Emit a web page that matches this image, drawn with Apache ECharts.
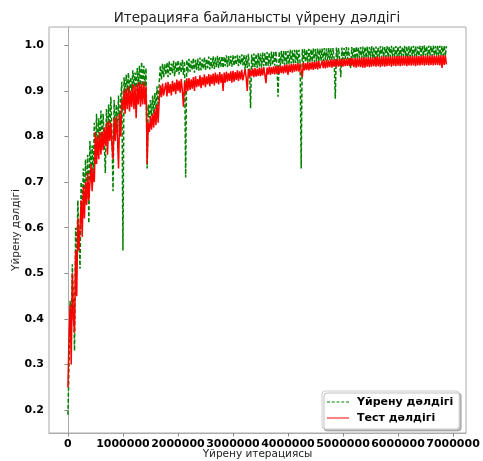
<!DOCTYPE html>
<html>
<head>
<meta charset="utf-8">
<script src="https://cdn.jsdelivr.net/npm/echarts@6/dist/echarts.min.js"></script>
<style>
html,body{margin:0;padding:0;background:#fff;}
#chart{width:483px;height:461px;}
</style>
</head>
<body>
<div id="chart"></div>
<script>
const titleText = 'Итерацияға байланысты үйрену дәлдігі';
const xName = 'Үйрену итерациясы';
const yName = 'Үйрену дәлдігі';
const seriesNames = ['Үйрену дәлдігі', 'Тест дәлдігі'];
const xTicks = [0, 1000000, 2000000, 3000000, 4000000, 5000000, 6000000, 7000000];
const yTicks = [0.2, 0.3, 0.4, 0.5, 0.6, 0.7, 0.8, 0.9, 1.0];
const step = 20000;

const trainAcc = [
0.19,0.30,0.44,0.36,0.52,0.45,0.33,0.60,0.52,0.66,
0.58,0.51,0.70,0.62,0.73,0.65,0.75,0.66,0.76,0.61,
0.79,0.70,0.78,0.72,0.83,0.74,0.85,0.76,0.84,0.77,
0.857,0.78,0.85,0.79,0.72,0.86,0.79,0.87,0.80,0.887,
0.81,0.68,0.88,0.80,0.87,0.81,0.89,0.80,0.885,0.92,
0.55,0.93,0.89,0.935,0.90,0.94,0.895,0.93,0.90,0.945,
0.905,0.94,0.90,0.95,0.91,0.955,0.905,0.963,0.91,0.955,
0.91,0.95,0.73,0.87,0.84,0.88,0.845,0.89,0.85,0.895,
0.86,0.91,0.865,0.92,0.955,0.925,0.96,0.93,0.958,0.935,
0.962,0.93,0.965,0.935,0.96,0.938,0.966,0.932,0.963,0.94,
0.967,0.936,0.962,0.94,0.968,0.935,0.965,0.71,0.968,0.94,
0.97,0.942,0.966,0.945,0.972,0.94,0.968,0.946,0.971,0.944,
0.973,0.945,0.969,0.948,0.974,0.946,0.97,0.95,0.975,0.947,
0.972,0.95,0.976,0.948,0.973,0.952,0.977,0.95,0.974,0.953,
0.976,0.95,0.975,0.954,0.978,0.952,0.976,0.955,0.977,0.953,
0.978,0.955,0.976,0.957,0.979,0.954,0.977,0.958,0.98,0.956,
0.979,0.945,0.978,0.95,0.981,0.948,0.862,0.98,0.95,0.982,
0.952,0.981,0.95,0.983,0.953,0.982,0.951,0.984,0.954,0.983,
0.953,0.985,0.955,0.984,0.954,0.986,0.956,0.985,0.955,0.987,
0.957,0.887,0.986,0.956,0.988,0.958,0.987,0.957,0.989,0.959,
0.988,0.958,0.99,0.96,0.989,0.959,0.99,0.961,0.991,0.96,
0.99,0.962,0.73,0.991,0.961,0.992,0.963,0.99,0.962,0.992,
0.963,0.991,0.964,0.993,0.963,0.992,0.965,0.993,0.964,0.992,
0.966,0.993,0.965,0.994,0.967,0.993,0.966,0.994,0.968,0.993,
0.967,0.994,0.968,0.883,0.995,0.968,0.994,0.969,0.93,0.995,
0.969,0.994,0.97,0.996,0.969,0.995,0.97,0.95,0.996,0.971,
0.995,0.97,0.997,0.971,0.995,0.972,0.996,0.971,0.997,0.972,
0.996,0.972,0.997,0.973,0.996,0.972,0.998,0.973,0.996,0.96,
0.997,0.973,0.996,0.974,0.998,0.973,0.997,0.974,0.996,0.974,
0.998,0.974,0.997,0.975,0.999,0.974,0.997,0.975,0.998,0.974,
0.997,0.975,0.998,0.975,0.997,0.976,0.999,0.975,0.998,0.96,
0.998,0.975,0.997,0.976,0.999,0.975,0.998,0.976,0.997,0.976,
0.999,0.976,0.998,0.976,1.0,0.977,0.998,0.976,0.999,0.977,
0.998,0.976,0.999,0.977,0.998,0.977,1.0,0.976,0.999,0.977,
0.998,0.977,0.999,0.976,0.998
];

const testAcc = [
0.25,0.36,0.43,0.30,0.50,0.40,0.37,0.55,0.45,0.62,
0.55,0.60,0.66,0.58,0.69,0.62,0.70,0.65,0.72,0.66,
0.70,0.74,0.68,0.73,0.70,0.81,0.74,0.80,0.75,0.81,
0.76,0.81,0.77,0.82,0.78,0.83,0.76,0.835,0.79,0.83,
0.78,0.75,0.84,0.79,0.845,0.80,0.73,0.85,0.80,0.88,
0.86,0.90,0.85,0.905,0.86,0.91,0.855,0.90,0.865,0.915,
0.86,0.91,0.84,0.915,0.87,0.92,0.865,0.915,0.87,0.92,
0.87,0.91,0.74,0.83,0.81,0.845,0.815,0.85,0.82,0.86,
0.825,0.87,0.83,0.88,0.912,0.886,0.916,0.89,0.905,0.918,
0.888,0.92,0.895,0.915,0.89,0.922,0.898,0.918,0.893,0.925,
0.90,0.922,0.896,0.926,0.90,0.865,0.92,0.895,0.927,0.90,
0.928,0.902,0.925,0.905,0.93,0.90,0.932,0.908,0.926,0.91,
0.934,0.906,0.93,0.912,0.936,0.908,0.932,0.914,0.937,0.91,
0.935,0.915,0.938,0.912,0.94,0.917,0.936,0.914,0.941,0.918,
0.937,0.90,0.94,0.918,0.942,0.92,0.939,0.922,0.943,0.918,
0.944,0.92,0.941,0.924,0.945,0.922,0.943,0.925,0.946,0.923,
0.926,0.947,0.929,0.90,0.948,0.93,0.946,0.932,0.949,0.93,
0.95,0.931,0.948,0.933,0.951,0.932,0.95,0.934,0.952,0.935,
0.917,0.951,0.936,0.953,0.935,0.952,0.937,0.954,0.936,0.955,
0.938,0.954,0.937,0.956,0.939,0.955,0.938,0.957,0.94,0.958,
0.935,0.957,0.941,0.959,0.94,0.96,0.942,0.959,0.943,0.961,
0.942,0.96,0.944,0.93,0.962,0.945,0.961,0.946,0.963,0.945,
0.962,0.947,0.964,0.946,0.963,0.948,0.965,0.947,0.966,0.949,
0.945,0.966,0.95,0.967,0.949,0.968,0.951,0.967,0.952,0.969,
0.951,0.968,0.953,0.969,0.952,0.97,0.953,0.969,0.954,0.97,
0.953,0.971,0.954,0.97,0.955,0.971,0.954,0.972,0.955,0.971,
0.952,0.972,0.951,0.973,0.953,0.972,0.952,0.973,0.951,0.974,
0.951,0.973,0.953,0.974,0.952,0.973,0.953,0.974,0.954,0.973,
0.953,0.975,0.954,0.974,0.952,0.975,0.954,0.976,0.953,0.975,
0.954,0.975,0.955,0.976,0.953,0.975,0.955,0.976,0.954,0.976,
0.955,0.976,0.954,0.977,0.955,0.976,0.956,0.977,0.954,0.976,
0.956,0.977,0.955,0.976,0.956,0.977,0.954,0.977,0.956,0.976,
0.956,0.977,0.957,0.978,0.955,0.977,0.957,0.978,0.956,0.977,
0.957,0.978,0.956,0.978,0.957,0.977,0.957,0.978,0.956,0.978,
0.95,0.978,0.957,0.978,0.958
];

const iterations = trainAcc.map((_, i) => i * step);
const trainData = iterations.map((x, i) => [x, trainAcc[i]]);
const testData = iterations.map((x, i) => [x, testAcc[i]]);

const FONT = 'DejaVu Sans';
const dashIcon = 'path://M0,0h3v1h-3zM4.75,0h3v1h-3zM9.5,0h3v1h-3zM14.25,0h3v1h-3zM19,0h3v1h-3z';
const solidIcon = 'path://M0,0h22v1h-22z';
const chart = echarts.init(document.getElementById('chart'), null, {renderer: 'canvas'});
chart.setOption({
  animation: false,
  backgroundColor: '#ffffff',
  graphic: [{
    type: 'text', x: 257, y: 18,
    style: {text: titleText, font: '13.5px "DejaVu Sans"', fill: '#222', textAlign: 'center', textVerticalAlign: 'middle'}
  }],
  grid: {left: 49, right: 17, top: 27, bottom: 28, show: true, borderColor: '#aaaaaa', borderWidth: 1, outerBoundsMode: 'none'},
  legend: {
    orient: 'vertical', left: 322, top: 391,
    data: [{name: seriesNames[0], icon: dashIcon}, {name: seriesNames[1], icon: solidIcon}],
    itemWidth: 22, itemHeight: 1.5, itemGap: 2,
    padding: [4, 6, 4, 5],
    itemStyle: {borderWidth: 0},
    backgroundColor: '#fff', borderColor: '#cccccc', borderWidth: 1, borderRadius: 3,
    shadowColor: 'rgba(0,0,0,0.25)', shadowOffsetX: 2, shadowOffsetY: 2, shadowBlur: 0,
    textStyle: {fontFamily: FONT, fontWeight: 'bold', fontSize: 11, color: '#000', padding: [0, 0, 0, 3], lineHeight: 14}
  },
  xAxis: {
    type: 'value', min: -344000, max: 7236000,
    name: xName, nameLocation: 'middle', nameGap: 16, nameMoveOverlap: false,
    nameTextStyle: {fontFamily: FONT, fontSize: 10.5, color: '#222'},
    axisLine: {show: true, lineStyle: {color: '#aaaaaa'}},
    axisTick: {show: true, inside: false, length: 3.5, customValues: xTicks, lineStyle: {color: '#888'}},
    axisLabel: {customValues: xTicks, margin: 6, fontFamily: FONT, fontWeight: 'bold', fontSize: 11, color: '#000', formatter: v => String(v)},
    splitLine: {show: false}
  },
  yAxis: {
    type: 'value', min: 0.15, max: 1.04,
    name: yName, nameLocation: 'middle', nameGap: 27, nameMoveOverlap: false,
    nameTextStyle: {fontFamily: FONT, fontSize: 10.5, color: '#222'},
    axisLine: {show: true, lineStyle: {color: '#aaaaaa'}},
    axisTick: {show: true, inside: false, length: 3.5, customValues: yTicks, lineStyle: {color: '#888'}},
    axisLabel: {customValues: yTicks, margin: 5, fontFamily: FONT, fontWeight: 'bold', fontSize: 11, color: '#000', formatter: v => v.toFixed(1)},
    splitLine: {show: false}
  },
  series: [
    {name: seriesNames[0], type: 'line', data: trainData, symbol: 'none', sampling: false,
     lineStyle: {color: '#008000', width: 1.5, type: [4, 2]}, itemStyle: {color: '#008000'}},
    {name: seriesNames[1], type: 'line', data: testData, symbol: 'none',
     lineStyle: {color: '#ff0000', width: 1.5}, itemStyle: {color: '#ff0000'}}
  ]
});
</script>
</body>
</html>
